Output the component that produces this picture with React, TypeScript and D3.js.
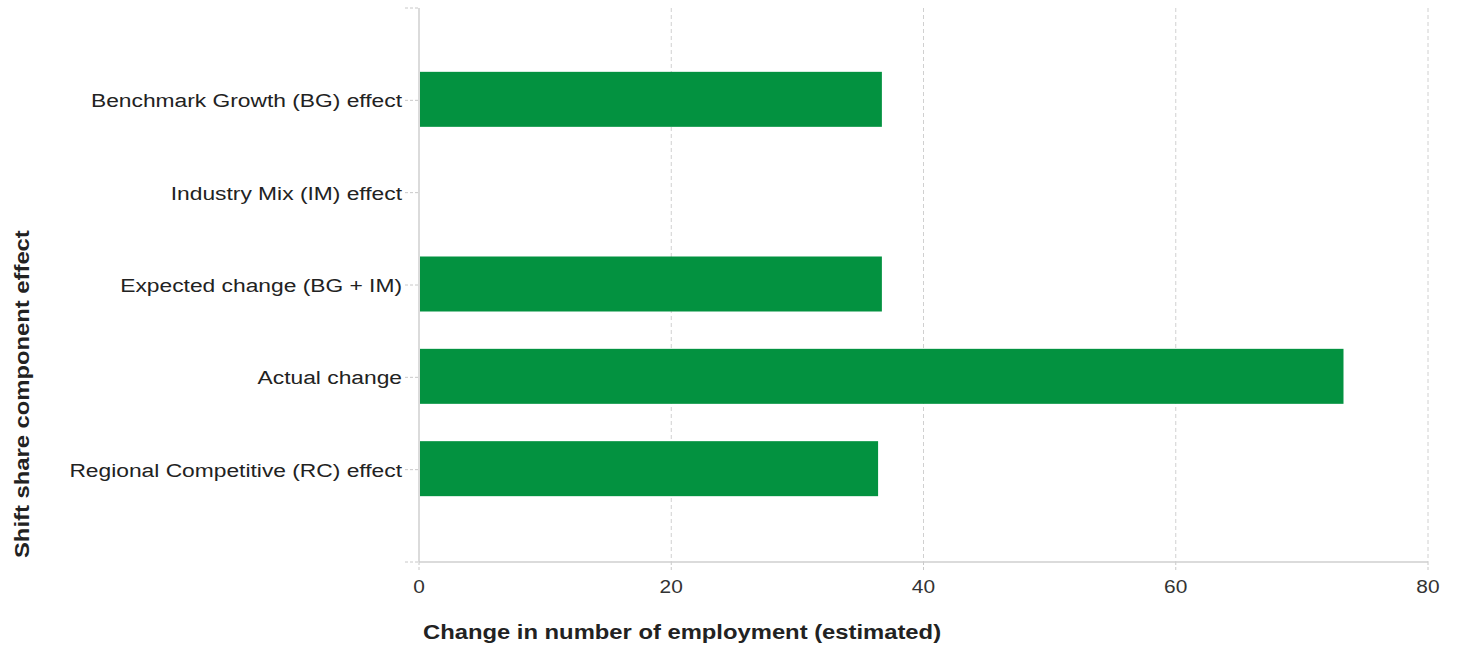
import React from "react";
import * as d3 from "d3";

const categories = [
  "Benchmark Growth (BG) effect",
  "Industry Mix (IM) effect",
  "Expected change (BG + IM)",
  "Actual change",
  "Regional Competitive (RC) effect",
];
const values = [36.7, 0, 36.7, 73.3, 36.4];
const xTicks = [0, 20, 40, 60, 80];

const W = 1459;
const H = 648;
const left = 419;
const right = 1428;
const top = 8;
const bottom = 562;
const FONT = "'Liberation Sans', Arial, sans-serif";
const SX = 1.2;

export default function App() {
  const x = d3.scaleLinear().domain([0, 80]).range([left, right]);
  const y = d3.scalePoint<string>().domain(categories).range([top, bottom]).padding(1);
  const barH = 55;
  return (
    <svg width={W} height={H} style={{ position: "absolute", left: 0, top: 0 }}>
      <rect width={W} height={H} fill="#fff" />
      {xTicks.map((t) => (
        <g key={t}>
          {t !== 0 && (
            <line x1={x(t)} x2={x(t)} y1={top} y2={bottom} stroke="#d0d0d0" strokeDasharray="4,3" />
          )}
          <line x1={x(t)} x2={x(t)} y1={bottom} y2={bottom + 9} stroke="#c8c8c8" strokeDasharray="3,2" />
          <text
            transform={`translate(${x(t)},${593}) scale(1.1,1)`}
            textAnchor="middle"
            fontFamily={FONT}
            fontSize={19}
            fill="#333"
          >
            {t}
          </text>
        </g>
      ))}
      <line x1={left} x2={right} y1={bottom} y2={bottom} stroke="#cfcfcf" strokeWidth={1.5} />
      <line x1={left} x2={left} y1={top} y2={bottom} stroke="#cfcfcf" strokeWidth={1.5} />
      <line x1={405} x2={left} y1={top} y2={top} stroke="#c8c8c8" strokeDasharray="3,2" />
      <line x1={405} x2={left} y1={bottom} y2={bottom} stroke="#c8c8c8" strokeDasharray="3,2" />
      {categories.map((c, i) => (
        <g key={c}>
          <line x1={405} x2={left} y1={y(c)!} y2={y(c)!} stroke="#c8c8c8" strokeDasharray="3,2" />
          <text
            transform={`translate(402,${y(c)! + 7}) scale(${SX},1)`}
            textAnchor="end"
            fontFamily={FONT}
            fontSize={19}
            fill="#222"
          >
            {c}
          </text>
          {values[i] > 0 && (
            <rect
              x={x(0) + 1}
              y={y(c)! - barH / 2 - 1}
              width={x(values[i]) - x(0) - 1}
              height={barH}
              fill="#039240"
            />
          )}
        </g>
      ))}
      <text
        transform={`translate(423,639) scale(1.19,1)`}
        fontFamily={FONT}
        fontSize={20}
        fontWeight="bold"
        fill="#222"
      >
        Change in number of employment (estimated)
      </text>
      <text
        transform={`translate(29, 558) rotate(-90) scale(1.19,1)`}
        fontFamily={FONT}
        fontSize={20}
        fontWeight="bold"
        fill="#222"
      >
        Shift share component effect
      </text>
    </svg>
  );
}
